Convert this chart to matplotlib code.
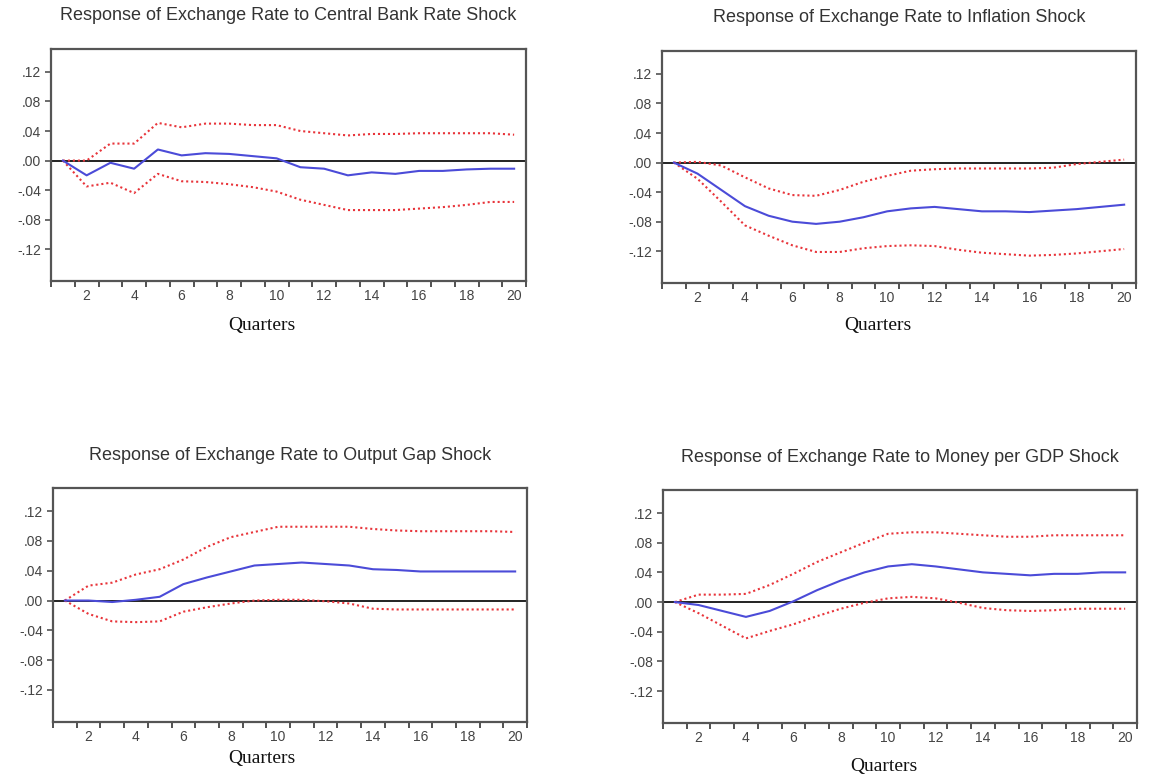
import numpy as np
import matplotlib
matplotlib.use("Agg")
import matplotlib.pyplot as plt
from matplotlib.ticker import FixedLocator, FuncFormatter

plt.rcParams["font.family"] = ["Liberation Sans", "DejaVu Sans"]

quarters = np.arange(1, 21)

titles = ["Response of Exchange Rate to Central Bank Rate Shock",
          "Response of Exchange Rate to Inflation Shock",
          "Response of Exchange Rate to Output Gap Shock",
          "Response of Exchange Rate to Money per GDP Shock"]

# central bank rate shock
cb_resp = [0.000, -0.020, -0.003, -0.011, 0.015, 0.007, 0.010, 0.009, 0.006, 0.003,
           -0.009, -0.011, -0.020, -0.016, -0.018, -0.014, -0.014, -0.012, -0.011, -0.011]
cb_upper = [0.000, 0.000, 0.023, 0.023, 0.051, 0.045, 0.050, 0.050, 0.048, 0.048,
            0.040, 0.037, 0.034, 0.036, 0.036, 0.037, 0.037, 0.037, 0.037, 0.035]
cb_lower = [0.000, -0.035, -0.030, -0.044, -0.018, -0.028, -0.029, -0.032, -0.036, -0.042,
            -0.053, -0.060, -0.067, -0.067, -0.067, -0.065, -0.063, -0.060, -0.056, -0.056]

# inflation shock
inf_resp = [0.000, -0.015, -0.037, -0.059, -0.072, -0.080, -0.083, -0.080, -0.074, -0.066,
            -0.062, -0.060, -0.063, -0.066, -0.066, -0.067, -0.065, -0.063, -0.060, -0.057]
inf_upper = [0.000, 0.001, -0.004, -0.020, -0.035, -0.044, -0.045, -0.037, -0.026, -0.018,
             -0.011, -0.009, -0.008, -0.008, -0.008, -0.008, -0.007, -0.002, 0.001, 0.004]
inf_lower = [0.000, -0.022, -0.053, -0.085, -0.099, -0.112, -0.121, -0.121, -0.116, -0.113,
             -0.112, -0.113, -0.118, -0.122, -0.124, -0.126, -0.125, -0.123, -0.120, -0.117]

# output gap shock
gap_resp = [0.000, 0.000, -0.002, 0.001, 0.005, 0.022, 0.031, 0.039, 0.047, 0.049,
            0.051, 0.049, 0.047, 0.042, 0.041, 0.039, 0.039, 0.039, 0.039, 0.039]
gap_upper = [0.000, 0.020, 0.024, 0.035, 0.042, 0.055, 0.072, 0.085, 0.092, 0.099,
             0.099, 0.099, 0.099, 0.096, 0.094, 0.093, 0.093, 0.093, 0.093, 0.092]
gap_lower = [0.000, -0.018, -0.028, -0.029, -0.028, -0.015, -0.009, -0.004, 0.000, 0.001,
             0.001, -0.001, -0.004, -0.011, -0.012, -0.012, -0.012, -0.012, -0.012, -0.012]

# money per GDP shock
mon_resp = [0.000, -0.004, -0.012, -0.020, -0.012, 0.001, 0.016, 0.029, 0.040, 0.048,
            0.051, 0.048, 0.044, 0.040, 0.038, 0.036, 0.038, 0.038, 0.040, 0.040]
mon_upper = [0.000, 0.010, 0.010, 0.011, 0.023, 0.038, 0.054, 0.067, 0.080, 0.092,
             0.094, 0.094, 0.092, 0.090, 0.088, 0.088, 0.090, 0.090, 0.090, 0.090]
mon_lower = [0.000, -0.015, -0.032, -0.049, -0.039, -0.030, -0.019, -0.009, -0.001, 0.005,
             0.007, 0.005, -0.001, -0.008, -0.011, -0.012, -0.011, -0.009, -0.009, -0.009]

responses = [cb_resp, inf_resp, gap_resp, mon_resp]
uppers = [cb_upper, inf_upper, gap_upper, mon_upper]
lowers = [cb_lower, inf_lower, gap_lower, mon_lower]

yticks = [-0.12, -0.08, -0.04, 0.0, 0.04, 0.08, 0.12]
xlabels = np.arange(2, 21, 2)

W, H = 1150, 780
# box in pixels: left, top, right, bottom
boxes = [(51, 49, 526, 281), (662, 51, 1136, 283),
         (53, 488, 527, 722), (663, 490, 1137, 723)]
title_y = [15, 18, 455, 457]
qlab = [(262, 325), (878, 325), (262, 758), (884, 766)]

fig = plt.figure(figsize=(W / 100, H / 100), dpi=100)


def fmt(v, pos):
    s = "%.2f" % v
    s = s.replace("0.", ".")
    if s == "-.00":
        s = ".00"
    return s


for i in range(4):
    l, t, r, b = boxes[i]
    ax = fig.add_axes([l / W, 1 - b / H, (r - l) / W, (b - t) / H])
    ax.axhline(0, color="#222222", lw=1.4, zorder=1)
    ax.plot(quarters, uppers[i], color="#e8343a", lw=1.5, ls=(0, (1.0, 1.4)), zorder=2)
    ax.plot(quarters, lowers[i], color="#e8343a", lw=1.5, ls=(0, (1.0, 1.4)), zorder=2)
    ax.plot(quarters, responses[i], color="#4b4bd8", lw=1.5, zorder=3)
    ax.set_xlim(0.5, 20.5)
    ax.set_ylim(-0.163, 0.151)

    ax.xaxis.set_major_locator(FixedLocator(xlabels))
    ax.xaxis.set_minor_locator(FixedLocator(np.arange(0.5, 21, 1)))
    ax.tick_params(axis="x", which="major", length=0, pad=6, labelsize=10, labelcolor="#444444")
    ax.tick_params(axis="x", which="minor", length=4, width=1.2, direction="out", color="#333333")
    ax.set_yticks(yticks)
    ax.yaxis.set_major_formatter(FuncFormatter(fmt))
    ax.tick_params(axis="y", length=4, width=1.1, direction="out", pad=3, labelsize=10,
                   labelcolor="#444444", color="#444444")
    for s in ax.spines.values():
        s.set_color("#555555")
        s.set_linewidth(1.6)

    cx = (l + r) / 2
    fig.text(cx / W, 1 - title_y[i] / H, titles[i], ha="center", va="center",
             fontsize=13, color="#333333")
    fig.text(qlab[i][0] / W, 1 - qlab[i][1] / H, "Quarters", ha="center", va="center",
             fontsize=14, family="Liberation Serif", color="#111111")

fig.savefig("out.png", dpi=100)
